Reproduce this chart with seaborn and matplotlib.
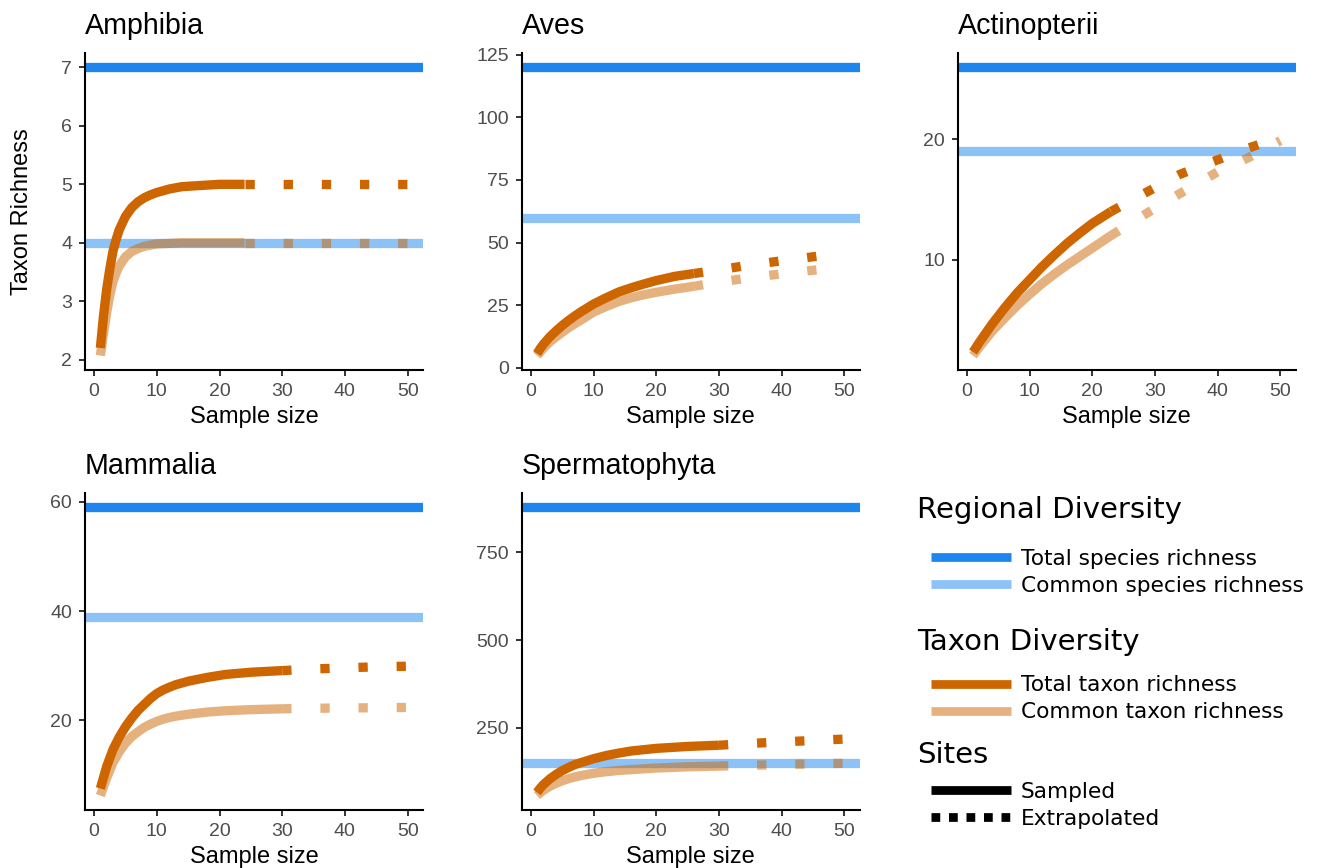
import matplotlib.pyplot as plt
import pandas as pd
import seaborn as sns
from matplotlib.lines import Line2D

# regional (species) richness per taxon, drawn as horizontal reference lines
TAXA = ["Amphibia", "Aves", "Actinopterii", "Mammalia", "Spermatophyta"]
TOTAL_SPECIES = [7, 120, 26, 59, 878]
COMMON_SPECIES = [4, 60, 19, 39, 150]

X_TICKS = [0, 10, 20, 30, 40, 50]
Y_TICKS = [
    [2, 3, 4, 5, 6, 7],
    [0, 25, 50, 75, 100, 125],
    [10, 20],
    [20, 40, 60],
    [250, 500, 750],
]

# rarefaction curves: sampled part, then extrapolated part
AMPHIBIA_N = [1, 1.5, 2, 2.5, 3, 3.5, 4, 5, 6, 7, 8, 9, 10, 12, 14, 17, 20, 24]
AMPHIBIA_TOTAL = [2.2, 2.75, 3.2, 3.55, 3.85, 4.05, 4.22, 4.45, 4.6, 4.7, 4.77, 4.82,
                  4.86, 4.92, 4.96, 4.98, 5.0, 5.0]
AMPHIBIA_COMMON = [2.07, 2.45, 2.8, 3.1, 3.33, 3.48, 3.6, 3.76, 3.85, 3.9, 3.94, 3.96,
                   3.98, 3.99, 4.0, 4.0, 4.0, 4.0]
AMPHIBIA_EXT_N = [24, 30, 35, 40, 45, 50]
AMPHIBIA_EXT_TOTAL = [5.0, 5.0, 5.0, 5.0, 5.0, 5.0]
AMPHIBIA_EXT_COMMON = [4.0, 4.0, 4.0, 4.0, 4.0, 4.0]

AVES_N = [1, 1.5, 2, 3, 4, 5, 6, 7, 8, 10, 12, 14, 16, 18, 20, 23, 26]
AVES_TOTAL = [5.6, 7.6, 9.3, 12.2, 14.6, 16.8, 18.8, 20.6, 22.3, 25.4, 27.9, 30.2,
              31.9, 33.4, 34.8, 36.5, 37.6]
AVES_COMMON = [4.8, 6.3, 7.7, 10.2, 12.2, 14.1, 15.9, 17.5, 19.0, 22.2, 24.4, 26.4,
               27.9, 29.1, 30.1, 31.4, 32.5]
AVES_EXT_N = [26, 30, 35, 40, 45, 50]
AVES_EXT_TOTAL = [37.6, 39.1, 41.0, 42.7, 44.3, 45.8]
AVES_EXT_COMMON = [32.5, 34.2, 35.9, 37.5, 38.9, 40.3]

ACTINO_N = [1, 2, 3, 4, 6, 8, 10, 12, 14, 16, 18, 20, 23]
ACTINO_TOTAL = [2.3, 3.1, 3.85, 4.6, 5.95, 7.2, 8.3, 9.4, 10.4, 11.35, 12.2, 13.0, 14.0]
ACTINO_COMMON = [2.0, 2.7, 3.35, 4.0, 5.1, 6.15, 7.1, 8.0, 8.8, 9.55, 10.25, 10.95, 12.0]
ACTINO_EXT_N = [23, 29, 34, 40, 45, 50]
ACTINO_EXT_TOTAL = [14.0, 15.7, 17.1, 18.3, 19.3, 20.2]
ACTINO_EXT_COMMON = [12.0, 13.95, 15.5, 17.3, 18.5, 19.9]

MAMMALIA_N = [1, 2, 3, 4, 5, 6, 7, 8, 9, 10, 11, 12, 13, 15, 18, 21, 25, 30]
MAMMALIA_TOTAL = [7.5, 11.5, 14.6, 16.9, 18.8, 20.4, 21.8, 22.9, 24.0, 24.9, 25.55, 26.05,
                  26.5, 27.15, 27.85, 28.4, 28.8, 29.1]
MAMMALIA_COMMON = [6.2, 9.4, 12.2, 14.2, 15.8, 17.0, 17.9, 18.7, 19.3, 19.8, 20.2, 20.5,
                   20.75, 21.1, 21.5, 21.75, 21.95, 22.1]
MAMMALIA_EXT_N = [30, 35, 40, 45, 50]
MAMMALIA_EXT_TOTAL = [29.1, 29.4, 29.6, 29.8, 29.9]
MAMMALIA_EXT_COMMON = [22.1, 22.2, 22.25, 22.3, 22.35]

SPERMA_N = [1, 1.5, 2, 3, 4, 5, 6, 7, 8, 10, 12, 14, 16, 20, 25, 30]
SPERMA_TOTAL = [66, 78, 88, 104, 117, 128, 137, 145, 151, 162, 171, 178, 184, 191.5, 197, 200.5]
SPERMA_COMMON = [57, 65, 72, 83, 92, 99, 105, 110, 114, 120.5, 125, 128.5, 131, 135.5, 139, 141]
SPERMA_EXT_N = [30, 35, 40, 45, 50]
SPERMA_EXT_TOTAL = [200.5, 205.5, 210, 214, 218]
SPERMA_EXT_COMMON = [141, 143.3, 145.5, 147.2, 149]

CURVES = [
    (AMPHIBIA_N, AMPHIBIA_TOTAL, AMPHIBIA_COMMON, AMPHIBIA_EXT_N, AMPHIBIA_EXT_TOTAL, AMPHIBIA_EXT_COMMON),
    (AVES_N, AVES_TOTAL, AVES_COMMON, AVES_EXT_N, AVES_EXT_TOTAL, AVES_EXT_COMMON),
    (ACTINO_N, ACTINO_TOTAL, ACTINO_COMMON, ACTINO_EXT_N, ACTINO_EXT_TOTAL, ACTINO_EXT_COMMON),
    (MAMMALIA_N, MAMMALIA_TOTAL, MAMMALIA_COMMON, MAMMALIA_EXT_N, MAMMALIA_EXT_TOTAL, MAMMALIA_EXT_COMMON),
    (SPERMA_N, SPERMA_TOTAL, SPERMA_COMMON, SPERMA_EXT_N, SPERMA_EXT_TOTAL, SPERMA_EXT_COMMON),
]

BLUE = "#1C86EE"
ORANGE = "#CD6600"
LW = 6.7
DOTTED = (0, (1, 3.1))

W, H = 1318, 868


def curve_frame(curves) -> pd.DataFrame:
    """Long table of one taxon's rarefaction curves."""
    n, total, common, ext_n, ext_total, ext_common = curves
    parts = [
        pd.DataFrame({"n": n, "richness": total, "measure": "total", "method": "sampled"}),
        pd.DataFrame({"n": n, "richness": common, "measure": "common", "method": "sampled"}),
        pd.DataFrame({"n": ext_n, "richness": ext_total, "measure": "total", "method": "extrapolated"}),
        pd.DataFrame({"n": ext_n, "richness": ext_common, "measure": "common", "method": "extrapolated"}),
    ]
    return pd.concat(parts, ignore_index=True)


def draw_panel(ax, i: int) -> None:
    df = curve_frame(CURVES[i])

    ax.axhline(TOTAL_SPECIES[i], color=BLUE, lw=LW, solid_capstyle="butt", zorder=1)
    ax.axhline(COMMON_SPECIES[i], color=BLUE, alpha=0.5, lw=LW, solid_capstyle="butt", zorder=1)

    for measure, alpha in [("common", 0.5), ("total", 1.0)]:
        for method, ls in [("sampled", "-"), ("extrapolated", DOTTED)]:
            sub = df[(df["measure"] == measure) & (df["method"] == method)]
            sns.lineplot(
                data=sub, x="n", y="richness", ax=ax, color=ORANGE, alpha=alpha,
                lw=LW, linestyle=ls, solid_capstyle="butt", dash_capstyle="butt",
                solid_joinstyle="round", errorbar=None, zorder=2,
            )

    x_lo, x_hi = df["n"].min(), df["n"].max()
    pad = 0.05 * (x_hi - x_lo)
    ax.set_xlim(x_lo - pad, x_hi + pad)
    y_lo = min(df["richness"].min(), COMMON_SPECIES[i])
    y_hi = max(df["richness"].max(), TOTAL_SPECIES[i])
    pad = 0.05 * (y_hi - y_lo)
    ax.set_ylim(y_lo - pad, y_hi + pad)

    ax.set_xticks(X_TICKS)
    ax.set_yticks(Y_TICKS[i])
    ax.tick_params(length=4.3, width=1.4, pad=5, labelsize=14, labelcolor="#4D4D4D", color="#333333")
    for side in ["left", "bottom"]:
        ax.spines[side].set_linewidth(1.5)
        ax.spines[side].set_color("black")
    sns.despine(ax=ax)

    ax.set_title(TAXA[i], loc="left", pad=13.5, fontsize=20.6, color="black")
    ax.set_xlabel("Sample size", fontsize=17, labelpad=4.5, color="black")
    ax.set_ylabel("")


def draw_legend(fig) -> None:
    groups = [
        ("Regional Diversity", 518.3, 548.7, [
            (Line2D([], [], color=BLUE, lw=6.3, solid_capstyle="butt"), "Total species richness"),
            (Line2D([], [], color=BLUE, alpha=0.5, lw=6.3, solid_capstyle="butt"), "Common species richness"),
        ]),
        ("Taxon Diversity", 650.0, 675.3, [
            (Line2D([], [], color=ORANGE, lw=6.3, solid_capstyle="butt"), "Total taxon richness"),
            (Line2D([], [], color=ORANGE, alpha=0.5, lw=6.3, solid_capstyle="butt"), "Common taxon richness"),
        ]),
        ("Sites", 763.3, 782.0, [
            (Line2D([], [], color="black", lw=6.3, solid_capstyle="butt"), "Sampled"),
            (Line2D([], [], color="black", lw=6.3, linestyle=(0, (1, 1)), dash_capstyle="butt"), "Extrapolated"),
        ]),
    ]
    for title, title_y, top, entries in groups:
        fig.text(917 / W, 1 - title_y / H, title, family="DejaVu Sans", fontsize=21,
                 va="baseline", color="black")
        handles = [h for h, _ in entries]
        labels = [l for _, l in entries]
        fig.legend(
            handles, labels, loc="upper left", bbox_to_anchor=(930.7 / W, 1 - top / H),
            frameon=False, borderpad=0, borderaxespad=0, handlelength=3.7,
            handletextpad=0.45, labelspacing=0.32, labelcolor="black",
            prop={"family": "DejaVu Sans", "size": 15.6},
        )


def main() -> None:
    sns.set_theme(style="ticks")
    plt.rcParams["font.family"] = ["Liberation Sans", "DejaVu Sans"]
    plt.rcParams["text.color"] = "black"
    plt.rcParams["axes.labelcolor"] = "black"

    fig = plt.figure(figsize=(W / 100, H / 100), dpi=100)
    lefts = [85, 521.7, 957.7]
    bottoms = [370, 810]
    for i in range(len(TAXA)):
        left = lefts[i % 3]
        bottom = bottoms[i // 3]
        ax = fig.add_axes([left / W, 1 - bottom / H, 338 / W, 317 / H])
        draw_panel(ax, i)

    fig.text(22 / W, 1 - 211.5 / H, "Taxon Richness", rotation=90, ha="center", va="center",
             fontsize=17, color="black")
    draw_legend(fig)

    fig.savefig("out.png", dpi=100, facecolor="white")
    plt.close(fig)


if __name__ == "__main__":
    main()
